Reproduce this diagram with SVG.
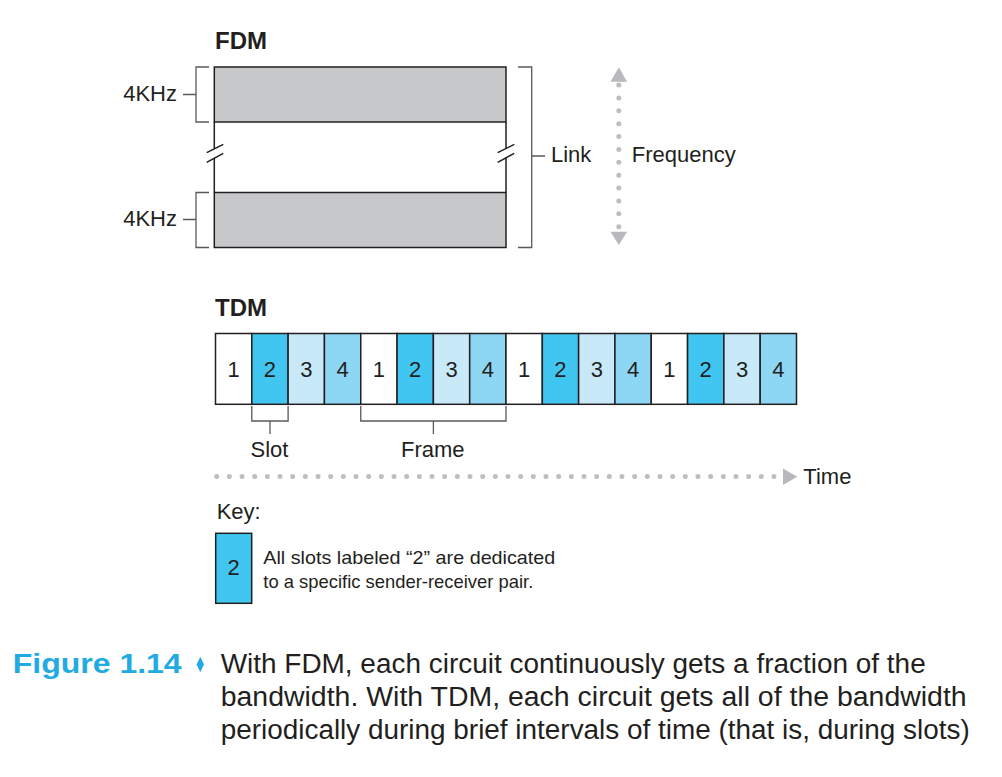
<svg xmlns="http://www.w3.org/2000/svg" width="1002" height="777" viewBox="0 0 1002 777">
<style>
.t{font-family:"Liberation Sans",Arial,sans-serif;font-size:22px;fill:#231f20}
.h{font-family:"Liberation Sans",Arial,sans-serif;font-size:24px;font-weight:bold;fill:#231f20}
.d{font-family:"Liberation Sans",Arial,sans-serif;font-size:22px;fill:#231f20;text-anchor:middle}
.k{font-family:"Liberation Sans",Arial,sans-serif;font-size:19px;fill:#231f20}
.c{font-family:"Liberation Sans",Arial,sans-serif;font-size:27px;fill:#231f20}
.cell{stroke:#231f20;stroke-width:1.5}
.c1{fill:#ffffff}.c2{fill:#41c6f1}.c3{fill:#c8e9f8}.c4{fill:#8dd6f4}
.br{fill:none;stroke:#58595b;stroke-width:1.3}
.ln{fill:none;stroke:#231f20;stroke-width:1.5}
.band{fill:#c7c8ca;stroke:#231f20;stroke-width:1.5}
.dots{stroke:#bcbec0;stroke-width:5;stroke-linecap:round;fill:none}
.ah{fill:#b7b9bc}
</style>
<rect width="1002" height="777" fill="#ffffff"/>

<g id="fdm">
  <text class="h" x="215" y="49">FDM</text>
  <g id="band-top">
    <rect class="band" x="214.3" y="67" width="291.7" height="55"/>
  </g>
  <g id="band-bottom">
    <rect class="band" x="214.3" y="192.5" width="291.7" height="55"/>
  </g>
  <g id="link-gap">
    <path class="ln" d="M214.3,122 V148.5 M214.3,157.8 V192.5 M506,122 V148.5 M506,157.8 V192.5"/>
    <path class="ln" d="M206.7,152.7 L223.3,144.3 M206.7,162.3 L223.3,153.3"/>
    <path class="ln" d="M497.7,152.7 L514.3,144.3 M497.7,162.3 L514.3,153.3"/>
  </g>
  <g id="label-4khz-top">
    <path class="br" d="M209,67 H196 V122 H209 M183,94.5 H196"/>
    <text class="t" x="177" y="101" text-anchor="end">4KHz</text>
  </g>
  <g id="label-4khz-bottom">
    <path class="br" d="M209,192.5 H196 V247.5 H209 M183,219.5 H196"/>
    <text class="t" x="177" y="226" text-anchor="end">4KHz</text>
  </g>
  <g id="label-link">
    <path class="br" d="M518,67 H531.7 V247.5 H518 M531.7,156 H545"/>
    <text class="t" x="551" y="162">Link</text>
  </g>
  <g id="frequency-axis">
    <line class="dots" x1="618.8" y1="85" x2="618.8" y2="226.7" stroke-dasharray="0 12.88"/>
    <polygon class="ah" points="610.5,81.7 618.8,67.3 627.1,81.7"/>
    <polygon class="ah" points="610.5,231.7 618.8,245 627.1,231.7"/>
    <text class="t" x="631.7" y="162">Frequency</text>
  </g>
</g>

<g id="tdm">
  <text class="h" x="215" y="316">TDM</text>
  <g id="slots">
    <rect class="cell c1" x="215.5" y="333.5" width="36.31" height="70.8"/>
    <rect class="cell c2" x="251.81" y="333.5" width="36.31" height="70.8"/>
    <rect class="cell c3" x="288.13" y="333.5" width="36.31" height="70.8"/>
    <rect class="cell c4" x="324.44" y="333.5" width="36.31" height="70.8"/>
    <rect class="cell c1" x="360.75" y="333.5" width="36.31" height="70.8"/>
    <rect class="cell c2" x="397.06" y="333.5" width="36.31" height="70.8"/>
    <rect class="cell c3" x="433.38" y="333.5" width="36.31" height="70.8"/>
    <rect class="cell c4" x="469.69" y="333.5" width="36.31" height="70.8"/>
    <rect class="cell c1" x="506" y="333.5" width="36.31" height="70.8"/>
    <rect class="cell c2" x="542.31" y="333.5" width="36.31" height="70.8"/>
    <rect class="cell c3" x="578.63" y="333.5" width="36.31" height="70.8"/>
    <rect class="cell c4" x="614.94" y="333.5" width="36.31" height="70.8"/>
    <rect class="cell c1" x="651.25" y="333.5" width="36.31" height="70.8"/>
    <rect class="cell c2" x="687.56" y="333.5" width="36.31" height="70.8"/>
    <rect class="cell c3" x="723.88" y="333.5" width="36.31" height="70.8"/>
    <rect class="cell c4" x="760.19" y="333.5" width="36.31" height="70.8"/>
    <text class="d" x="233.66" y="377">1</text>
    <text class="d" x="269.97" y="377">2</text>
    <text class="d" x="306.29" y="377">3</text>
    <text class="d" x="342.6" y="377">4</text>
    <text class="d" x="378.91" y="377">1</text>
    <text class="d" x="415.22" y="377">2</text>
    <text class="d" x="451.54" y="377">3</text>
    <text class="d" x="487.85" y="377">4</text>
    <text class="d" x="524.16" y="377">1</text>
    <text class="d" x="560.47" y="377">2</text>
    <text class="d" x="596.79" y="377">3</text>
    <text class="d" x="633.1" y="377">4</text>
    <text class="d" x="669.41" y="377">1</text>
    <text class="d" x="705.72" y="377">2</text>
    <text class="d" x="742.04" y="377">3</text>
    <text class="d" x="778.35" y="377">4</text>
  </g>
  <g id="label-slot">
    <path class="br" d="M251.8,406 V421 H288.1 V406 M270,421 V434"/>
    <text class="d" x="269.5" y="457">Slot</text>
  </g>
  <g id="label-frame">
    <path class="br" d="M360.75,406 V421 H506 V406 M433.4,421 V434"/>
    <text class="d" x="432.8" y="457">Frame</text>
  </g>
  <g id="time-axis">
    <line class="dots" x1="216.7" y1="476.5" x2="774" y2="476.5" stroke-dasharray="0 12.665"/>
    <polygon class="ah" points="783,468.5 797.3,476.8 783,485"/>
    <text class="t" x="803.3" y="483.5">Time</text>
  </g>
</g>

<g id="key">
  <text class="t" x="216.7" y="518.5">Key:</text>
  <rect class="cell c2" x="215.7" y="533.3" width="36" height="70"/>
  <text class="d" x="233.7" y="575">2</text>
  <text class="k" x="263.3" y="564" textLength="292" lengthAdjust="spacingAndGlyphs">All slots labeled “2” are dedicated</text>
  <text class="k" x="263.3" y="588.3" textLength="270" lengthAdjust="spacingAndGlyphs">to a specific sender-receiver pair.</text>
</g>

<g id="caption">
  <text x="12.7" y="673.3" font-family="'Liberation Sans',Arial,sans-serif" font-size="28" font-weight="bold" fill="#22abe3" textLength="169" lengthAdjust="spacingAndGlyphs">Figure 1.14</text>
  <polygon points="200.3,656.7 204,664.5 200.3,672.3 196.6,664.5" fill="#22abe3"/>
  <text class="c" x="220.7" y="673.3" textLength="705" lengthAdjust="spacingAndGlyphs">With FDM, each circuit continuously gets a fraction of the</text>
  <text class="c" x="220.7" y="706" textLength="746" lengthAdjust="spacingAndGlyphs">bandwidth. With TDM, each circuit gets all of the bandwidth</text>
  <text class="c" x="220.7" y="738.7" textLength="749" lengthAdjust="spacingAndGlyphs">periodically during brief intervals of time (that is, during slots)</text>
</g>
</svg>
